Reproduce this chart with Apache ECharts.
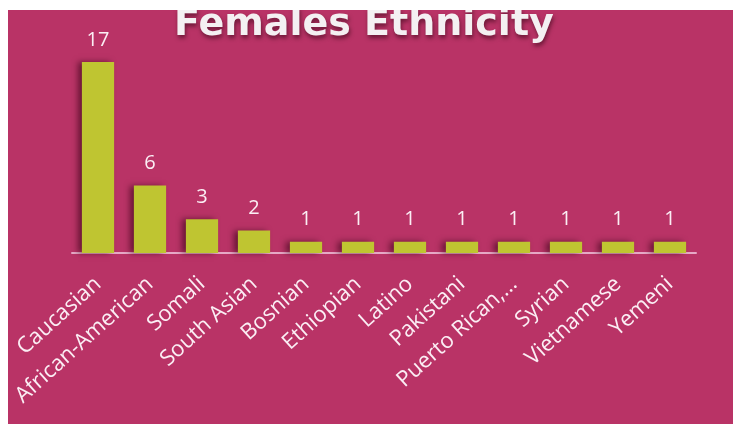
<!DOCTYPE html>
<html>
<head>
<meta charset="utf-8">
<script src="https://cdn.jsdelivr.net/npm/echarts@6/dist/echarts.min.js"></script>
<style>
  html, body { margin: 0; padding: 0; background: #fff; }
  #main { position: absolute; left: 8px; top: 10px; width: 725px; height: 414px; background: #b93366; }
</style>
</head>
<body>
<div id="main"></div>
<script>
// 类别和数值
var categories = ['Caucasian', 'African-American', 'Somali', 'South Asian', 'Bosnian', 'Ethiopian',
    'Latino', 'Pakistani', 'Puerto Rican,…', 'Syrian', 'Vietnamese', 'Yemeni'];
var counts = [17, 6, 3, 2, 1, 1, 1, 1, 1, 1, 1, 1];

var myChart = echarts.init(document.getElementById('main'));

var option = {
    backgroundColor: '#b93366',
    title: {
        text: 'Females Ethnicity',
        left: 161,
        top: -9,
        textStyle: {
            color: '#f4f0f2',
            fontFamily: 'DejaVu Sans',
            fontWeight: 'bold',
            fontSize: 38,
            textShadowColor: 'rgba(40,0,15,0.55)',
            textShadowBlur: 4,
            textShadowOffsetX: 1,
            textShadowOffsetY: 3
        }
    },
    grid: {
        left: 64,
        width: 624,
        top: 52,
        bottom: 171
    },
    xAxis: {
        type: 'category',
        data: categories,
        axisLine: { lineStyle: { color: '#e6a9c6', width: 2 } },
        axisTick: { show: false },
        axisLabel: {
            interval: 0,
            rotate: 42,
            margin: 28,
            color: '#fbeef4',
            fontFamily: 'Open Sans',
            fontSize: 22
        }
    },
    yAxis: {
        type: 'value',
        min: 0,
        max: 17,
        show: false
    },
    series: [{
        type: 'bar',
        data: counts,
        barCategoryGap: '38%',
        itemStyle: {
            color: '#bfc531',
            shadowColor: 'rgba(50,0,20,0.6)',
            shadowBlur: 6,
            shadowOffsetX: -4,
            shadowOffsetY: 0
        },
        label: {
            show: true,
            position: 'top',
            distance: 12,
            color: '#fbeef4',
            fontFamily: 'Open Sans',
            fontSize: 20
        }
    }]
};
myChart.setOption(option);
</script>
</body>
</html>
